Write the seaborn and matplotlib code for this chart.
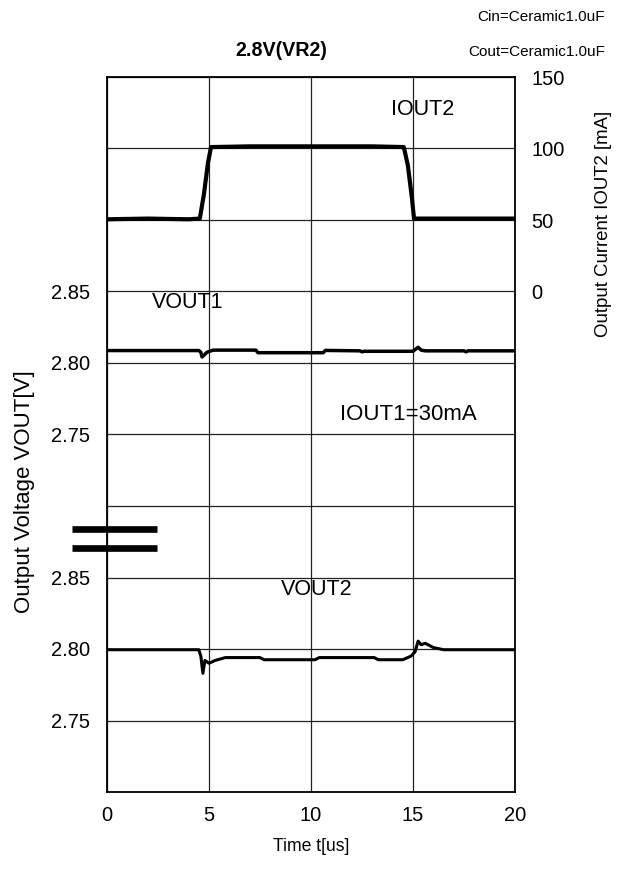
import matplotlib
matplotlib.use("Agg")
import matplotlib.pyplot as plt
import seaborn as sns
import pandas as pd

# ---------------- data ----------------
t_i2 = [0.0, 2.0, 4.0, 4.55, 4.75, 4.95, 5.1, 7.0, 10.0, 13.0, 14.55, 14.75, 14.95, 15.05, 17.0, 20.0]
iout2 = [50.5, 51.0, 50.5, 51.0, 68.0, 90.0, 101.0, 101.5, 101.5, 101.5, 101.0, 88.0, 65.0, 51.0, 51.0, 51.0]

t_v1 = [0.0, 4.5, 4.6, 4.66, 4.9, 5.2, 7.3, 7.4, 10.6, 10.7, 12.4, 12.5, 12.6, 15.0, 15.25, 15.4, 15.6, 17.5, 17.6, 17.7, 20.0]
vout1 = [2.8087, 2.8087, 2.8075, 2.8042, 2.8075, 2.8090, 2.8090, 2.8072, 2.8072, 2.8088, 2.8085, 2.8078, 2.8082, 2.8082, 2.8110, 2.8090, 2.8085, 2.8085, 2.8078, 2.8085, 2.8085]

t_v2 = [0.0, 3.0, 4.5, 4.6, 4.7, 4.8, 5.0, 5.3, 5.8, 7.5, 7.7, 10.2, 10.4, 13.1, 13.3, 14.5, 14.9, 15.1, 15.25, 15.4, 15.6, 16.0, 16.5, 20.0]
vout2 = [2.7995, 2.7995, 2.7995, 2.7950, 2.7830, 2.7920, 2.7900, 2.7920, 2.7940, 2.7940, 2.7925, 2.7925, 2.7940, 2.7940, 2.7925, 2.7925, 2.7950, 2.7980, 2.8055, 2.8030, 2.8040, 2.8010, 2.7995, 2.7995]

x_ticks = [0, 5, 10, 15, 20]
i_ticks = [0, 50, 100, 150]
v_labels_upper = ["2.75", "2.80", "2.85"]
v_labels_lower = ["2.75", "2.80", "2.85"]

df_i2 = pd.DataFrame({"t": t_i2, "i": iout2})
df_v1 = pd.DataFrame({"t": t_v1, "v": vout1})
df_v2 = pd.DataFrame({"t": t_v2, "v": vout2})

# ---------------- style ----------------
sns.set_theme(style="white")
plt.rcParams["font.family"] = ["Liberation Sans", "DejaVu Sans"]
plt.rcParams["axes.unicode_minus"] = False
for k in ("text.color", "axes.labelcolor", "xtick.color", "ytick.color"):
    plt.rcParams[k] = "black"

fig = plt.figure(figsize=(6.26, 8.88), dpi=100)
ax = fig.add_axes([107 / 626, 1 - 792 / 888, 408 / 626, 715 / 888])

TICK_FS = 14.5
ANN_FS = 15.5

# main axis in "division" units for grid and left labels
ax.set_xlim(0, 20)
ax.set_ylim(0, 10)
ax.set_xticks(x_ticks)
ax.set_xticklabels([str(v) for v in x_ticks], fontsize=TICK_FS)
ax.set_yticks(range(0, 11))
ylabels = [""] * 11
ylabels[1], ylabels[2], ylabels[3] = v_labels_lower
ylabels[5], ylabels[6], ylabels[7] = v_labels_upper
ax.set_yticklabels(ylabels, fontsize=TICK_FS)
ax.tick_params(axis="x", length=0, pad=10)
ax.tick_params(axis="y", length=0, pad=12)
ax.grid(True, color="#222222", linewidth=0.9)
for s in ax.spines.values():
    s.set_color("black")
    s.set_linewidth(1.3)
ax.set_xlabel("Time t[us]", fontsize=12.7)
ax.xaxis.set_label_coords(0.5, (792 - 846) / 715)
ax.xaxis.label.set_va("center")
ax.set_ylabel("Output Voltage VOUT[V]", fontsize=16)
ax.yaxis.set_label_coords((25 - 107) / 408, (792 - 492) / 715)
ax.yaxis.label.set_va("center")

# VOUT1 (upper section): 2.75 at div 5
ax_v1 = ax.twinx()
ax_v1.set_ylim(2.50, 3.00)
ax_v1.set_yticks([])
sns.lineplot(data=df_v1, x="t", y="v", ax=ax_v1, color="black", linewidth=2.5, estimator=None)

# VOUT2 (lower section): 2.75 at div 1
ax_v2 = ax.twinx()
ax_v2.set_ylim(2.70, 3.20)
ax_v2.set_yticks([])
sns.lineplot(data=df_v2, x="t", y="v", ax=ax_v2, color="black", linewidth=2.2, estimator=None)

# IOUT2 on right axis: 0 at div 7
ax_i = ax.twinx()
ax_i.set_ylim(-350, 150)
ax_i.set_yticks(i_ticks)
ax_i.set_yticklabels([str(v) for v in i_ticks], fontsize=TICK_FS)
ax_i.tick_params(axis="y", length=0, pad=12)
sns.lineplot(data=df_i2, x="t", y="i", ax=ax_i, color="black", linewidth=3.0, estimator=None)
ax_i.set_ylabel("Output Current IOUT2 [mA]", fontsize=13.4)
ax_i.yaxis.set_label_coords((604 - 107) / 408, (792 - 224) / 715)
ax_i.yaxis.label.set_va("center")

for a in (ax_v1, ax_v2, ax_i):
    a.set_xlim(0, 20)
    a.set_xlabel("")
    for s in a.spines.values():
        s.set_visible(False)
ax_v1.set_ylabel("")
ax_v2.set_ylabel("")

# annotations
ax.text(15.45, 9.54, "IOUT2", fontsize=ANN_FS, ha="center", va="center")
ax.text(3.97, 6.85, "VOUT1", fontsize=ANN_FS, ha="center", va="center")
ax.text(14.75, 5.28, "IOUT1=30mA", fontsize=16, ha="center", va="center")
ax.text(10.3, 2.83, "VOUT2", fontsize=ANN_FS, ha="center", va="center")

# axis-break symbol
for yv in (3.68, 3.41):
    ax.plot([-1.72, 2.45], [yv, yv], color="black", linewidth=4.8,
            solid_capstyle="butt", clip_on=False)

fig.text(281 / 626, 1 - 51 / 888, "2.8V(VR2)", fontsize=14.2, fontweight="bold",
         ha="center", va="center")
fig.text(605 / 626, 1 - 17 / 888, "Cin=Ceramic1.0uF", fontsize=11, ha="right", va="center")
fig.text(605 / 626, 1 - 52 / 888, "Cout=Ceramic1.0uF", fontsize=11, ha="right", va="center")

fig.savefig("out.png", dpi=100, facecolor="white")
